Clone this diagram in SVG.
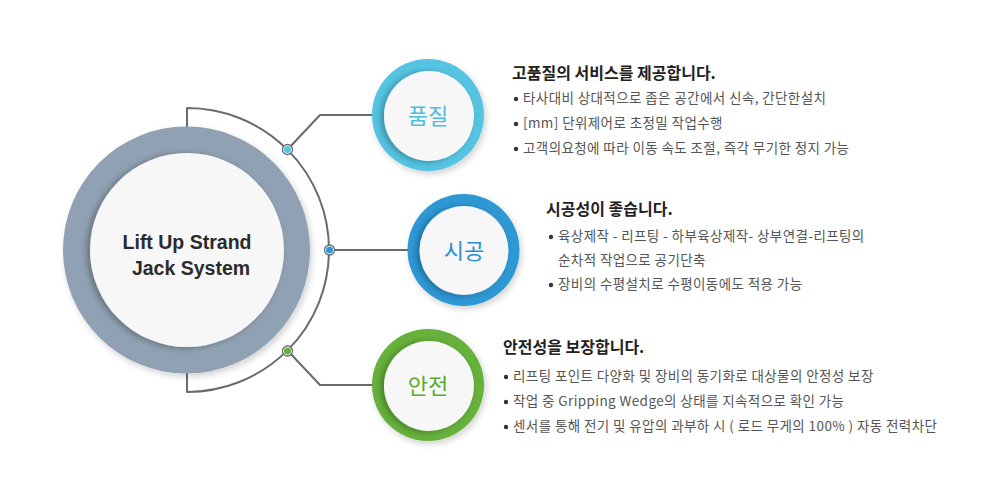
<svg xmlns="http://www.w3.org/2000/svg" width="1000" height="500" viewBox="0 0 1000 500">
<defs>
<style>
.ring-line{fill:none;stroke:#6b6b6b;stroke-width:2;stroke-linejoin:round}
.dot-out{fill:#ffffff;stroke:#6b6b6b;stroke-width:1.3}
.inner{fill:#f7f7f7}
.label{font-family:"Noto Sans CJK KR","Noto Sans",sans-serif;font-size:22px;text-anchor:middle}
.main{font-family:"Liberation Sans",Arial,sans-serif;font-size:19.5px;font-weight:bold;fill:#2b2b2b;text-anchor:middle}
.head{font-family:"Noto Sans CJK KR","Liberation Sans",sans-serif;font-size:16px;font-weight:bold;fill:#222}
.item{font-family:"Noto Sans CJK KR","Liberation Sans",sans-serif;font-size:13.5px;letter-spacing:0.4px;fill:#555}
.bul{fill:#333}
</style>
<filter id="sh" x="-30%" y="-30%" width="160%" height="160%">
<feDropShadow dx="2" dy="3" stdDeviation="3" flood-color="#000" flood-opacity="0.18"/>
</filter>
<filter id="ish" x="-30%" y="-30%" width="160%" height="160%">
<feDropShadow dx="-3" dy="1" stdDeviation="3" flood-color="#000" flood-opacity="0.3"/>
</filter>
</defs>
<rect width="1000" height="500" fill="#ffffff"/>

<g id="connectors">
<path class="ring-line" d="M187,127 V108 A142,142 0 0 1 187,392 V373"/>
<path class="ring-line" d="M288,149 L320,115 H374"/>
<path class="ring-line" d="M330,250 H408"/>
<path class="ring-line" d="M288,351 L320,385 H374"/>
<circle class="dot-out" cx="287.5" cy="149.5" r="5"/>
<circle cx="287.5" cy="149.5" r="3.5" fill="#55c4e2"/>
<circle class="dot-out" cx="329.5" cy="250" r="5"/>
<circle cx="329.5" cy="250" r="3.5" fill="#2f98d5"/>
<circle class="dot-out" cx="287.5" cy="351" r="5"/>
<circle cx="287.5" cy="351" r="3.5" fill="#66b13a"/>
</g>

<g id="center-node">
<circle cx="186.5" cy="250" r="123.5" fill="#8fa1b2" filter="url(#sh)"/>
<circle class="inner" cx="187" cy="250" r="97" filter="url(#ish)"/>
<text class="main" x="187" y="249">Lift Up Strand</text>
<text class="main" x="191" y="275">Jack System</text>
</g>

<g id="node-quality">
<circle cx="428" cy="115" r="56" fill="#55c4e2" filter="url(#sh)"/>
<circle class="inner" cx="429" cy="116" r="45" filter="url(#ish)"/>
<text class="label" x="428" y="124" fill="#4cbde0">품질</text>
</g>

<g id="node-construction">
<circle cx="463.5" cy="250" r="56" fill="#2f98d5" filter="url(#sh)"/>
<circle class="inner" cx="464" cy="250.5" r="44.5" filter="url(#ish)"/>
<text class="label" x="464" y="259" fill="#2e8fcf">시공</text>
</g>

<g id="node-safety">
<circle cx="428" cy="385" r="56" fill="#66b13a" filter="url(#sh)"/>
<circle class="inner" cx="429" cy="386" r="45" filter="url(#ish)"/>
<text class="label" x="428" y="394" fill="#5aaa30">안전</text>
</g>

<g id="text-quality">
<text class="head" x="512" y="79">고품질의 서비스를 제공합니다.</text>
<circle class="bul" cx="516" cy="99" r="2.2"/>
<text class="item" x="523" y="103">타사대비 상대적으로 좁은 공간에서 신속, 간단한설치</text>
<circle class="bul" cx="516" cy="124" r="2.2"/>
<text class="item" x="523" y="128">[mm] 단위제어로 초정밀 작업수행</text>
<circle class="bul" cx="516" cy="149" r="2.2"/>
<text class="item" x="523" y="153">고객의요청에 따라 이동 속도 조절, 즉각 무기한 정지 가능</text>
</g>

<g id="text-construction">
<text class="head" x="546" y="215">시공성이 좋습니다.</text>
<circle class="bul" cx="551" cy="237" r="2.2"/>
<text class="item" x="558" y="241">육상제작 - 리프팅 - 하부육상제작- 상부연결-리프팅의</text>
<text class="item" x="558" y="265">순차적 작업으로 공기단축</text>
<circle class="bul" cx="551" cy="285" r="2.2"/>
<text class="item" x="558" y="289">장비의 수평설치로 수평이동에도 적용 가능</text>
</g>

<g id="text-safety">
<text class="head" x="503" y="353">안전성을 보장합니다.</text>
<circle class="bul" cx="506" cy="377" r="2.2"/>
<text class="item" x="513" y="381">리프팅 포인트 다양화 및 장비의 동기화로 대상물의 안정성 보장</text>
<circle class="bul" cx="506" cy="402" r="2.2"/>
<text class="item" x="513" y="406">작업 중 Gripping Wedge의 상태를 지속적으로 확인 가능</text>
<circle class="bul" cx="506" cy="427" r="2.2"/>
<text class="item" x="513" y="431">센서를 통해 전기 및 유압의 과부하 시 ( 로드 무게의 100% ) 자동 전력차단</text>
</g>
</svg>
